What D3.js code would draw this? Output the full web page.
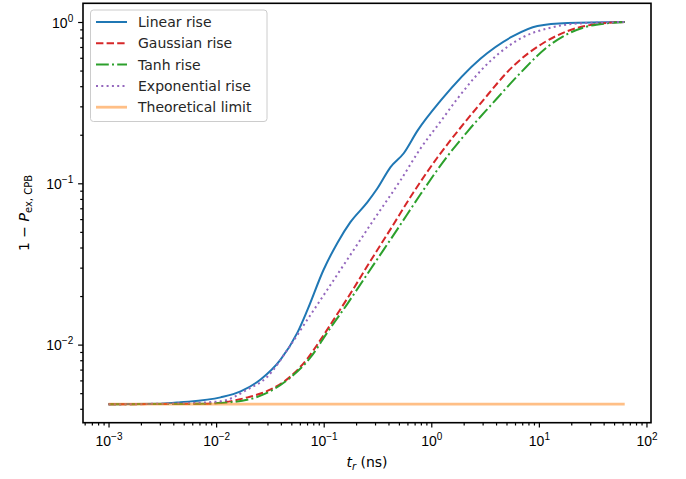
<!DOCTYPE html>
<html>
<head>
<meta charset="utf-8">
<title>CPB excitation vs rise time</title>
<script src="https://d3js.org/d3.v7.min.js"></script>
<style>
  body { margin: 0; background: #fff; }
  svg { font-family: "DejaVu Sans", sans-serif; }
  .axis text { font-size: 14px; fill: #000; }
  .axis line { stroke: #000; stroke-width: 1.2px; }
  .axis .domain { display: none; }
</style>
</head>
<body>
<svg id="chart" width="686" height="479"></svg>
<script>
// values: rise time t_r (ns) -> 1 - P_ex,CPB
const linearT = [0.001, 0.00304, 0.00467, 0.0110, 0.0169, 0.0259, 0.0397, 0.0571, 0.0706, 0.0995, 0.134, 0.177, 0.255, 0.316, 0.418, 0.552, 0.745, 1.22, 2.86, 5.81, 9.70, 18.5, 62.8];
const linearP = [0.00427, 0.00430, 0.00439, 0.00471, 0.00513, 0.00608, 0.00807, 0.0119, 0.0164, 0.0290, 0.0427, 0.0574, 0.0764, 0.0931, 0.126, 0.153, 0.212, 0.325, 0.592, 0.820, 0.944, 0.986, 1.0];

const gaussT = [0.001, 0.00716, 0.0117, 0.0196, 0.0321, 0.0491, 0.0706, 0.0933, 0.134, 0.189, 0.255, 0.418, 0.684, 1.14, 1.75, 2.86, 5.81, 11.0, 18.5, 37.4, 62.8];
const gaussP = [0.00427, 0.00430, 0.00439, 0.00471, 0.00527, 0.00634, 0.0082, 0.0107, 0.0155, 0.0222, 0.0308, 0.0520, 0.0880, 0.1445, 0.2094, 0.312, 0.535, 0.741, 0.879, 0.979, 1.0];

const tanhT = [0.001, 0.00716, 0.0136, 0.0276, 0.0491, 0.0753, 0.108, 0.166, 0.234, 0.290, 0.485, 0.794, 1.30, 2.17, 3.55, 6.75, 12.0, 18.5, 27.1, 41.6, 62.8];
const tanhP = [0.00427, 0.00430, 0.00439, 0.00491, 0.00625, 0.00832, 0.0119, 0.0179, 0.0252, 0.0312, 0.0520, 0.0855, 0.1368, 0.2094, 0.303, 0.484, 0.701, 0.843, 0.931, 0.979, 1.0];

const expT = [0.001, 0.00467, 0.0110, 0.0196, 0.0301, 0.0461, 0.0706, 0.108, 0.177, 0.303, 0.518, 0.794, 1.22, 1.75, 3.55, 7.19, 12.0, 18.5, 37.4, 62.8];
const expP = [0.00427, 0.00433, 0.00445, 0.00527, 0.00634, 0.00931, 0.0143, 0.0219, 0.0360, 0.0617, 0.1045, 0.1644, 0.2415, 0.335, 0.574, 0.808, 0.912, 0.965, 0.993, 1.0];

const limitT = [0.001, 62.8];
const limitP = [0.00427, 0.00427];

const legendLabels = ["Linear rise", "Gaussian rise", "Tanh rise", "Exponential rise", "Theoretical limit"];

const xTicks = [1e-3, 1e-2, 1e-1, 1, 10, 100];
const xTickExp = ["\u22123", "\u22122", "\u22121", "0", "1", "2"];
const yTicks = [1e-2, 1e-1, 1];
const yTickExp = ["\u22122", "\u22121", "0"];

// layout
const margin = {left: 83, top: 3.3, right: 35, bottom: 56.3};
const W = 686, H = 479;
const iw = W - margin.left - margin.right;
const ih = H - margin.top - margin.bottom;

const svg = d3.select("#chart");
svg.append("rect").attr("width", W).attr("height", H).attr("fill", "#fff");

const x = d3.scaleLog().domain([5.79e-4, 110.2]).range([0, iw]);
const y = d3.scaleLog().domain([0.00328, 1.306]).range([ih, 0]);

const g = svg.append("g").attr("transform", `translate(${margin.left},${margin.top})`);

// minor ticks: 2..9 in each decade
function minors(scale) {
  const [a, b] = scale.domain();
  const out = [];
  for (let e = Math.floor(Math.log10(a)); e <= Math.ceil(Math.log10(b)); e++) {
    for (let k = 2; k <= 9; k++) {
      const v = k * Math.pow(10, e);
      if (v >= a && v <= b) out.push(v);
    }
  }
  return out;
}

// x axis
g.append("g").attr("class", "axis").attr("transform", `translate(0,${ih})`)
  .call(d3.axisBottom(x).tickValues(minors(x)).tickSize(2.8).tickFormat(""));
const gx = g.append("g").attr("class", "axis").attr("transform", `translate(0,${ih})`)
  .call(d3.axisBottom(x).tickValues(xTicks).tickSize(4.9).tickFormat(""));
gx.selectAll(".tick text").each(function(d, i) {
  const t = d3.select(this).attr("y", 23.3).attr("dy", null).attr("text-anchor", "middle");
  t.text("10");
  t.append("tspan").attr("dy", -6).attr("font-size", "10px").text(xTickExp[i]);
});

// y axis
g.append("g").attr("class", "axis")
  .call(d3.axisLeft(y).tickValues(minors(y)).tickSize(2.8).tickFormat(""));
const gy = g.append("g").attr("class", "axis")
  .call(d3.axisLeft(y).tickValues(yTicks).tickSize(4.9).tickFormat(""));
gy.selectAll(".tick text").each(function(d, i) {
  const t = d3.select(this).attr("x", -9.8).attr("dy", null).attr("y", 5.2).attr("text-anchor", "end");
  t.text("10");
  t.append("tspan").attr("dy", -6).attr("font-size", "10px").text(yTickExp[i]);
});

// curves
const series = [
  {t: linearT, p: linearP, color: "#1f77b4", dash: null, w: 2},
  {t: gaussT, p: gaussP, color: "#d62728", dash: "7.4,3.2", w: 2},
  {t: tanhT, p: tanhP, color: "#2ca02c", dash: "12.8,3.2,2,3.2", w: 2},
  {t: expT, p: expP, color: "#9467bd", dash: "2,3.3", w: 2},
  {t: limitT, p: limitP, color: "#ff7f0e", dash: null, w: 2.8, op: 0.5}
];

const line = d3.line()
  .x(d => x(d[0]))
  .y(d => y(d[1]))
  .curve(d3.curveMonotoneX);

series.forEach(s => {
  g.append("path")
    .datum(s.t.map((t, i) => [t, s.p[i]]))
    .attr("d", line)
    .attr("fill", "none")
    .attr("stroke", s.color)
    .attr("stroke-width", s.w)
    .attr("stroke-dasharray", s.dash)
    .attr("stroke-opacity", s.op || 1);
});

// frame
g.append("rect").attr("width", iw).attr("height", ih)
  .attr("fill", "none").attr("stroke", "#000").attr("stroke-width", 1.6);

// legend
const lg = svg.append("g").attr("transform", "translate(90.5,10)");
lg.append("rect").attr("width", 176.5).attr("height", 111.5).attr("rx", 3)
  .attr("fill", "#fff").attr("fill-opacity", 0.8)
  .attr("stroke", "#ccc").attr("stroke-width", 1);
legendLabels.forEach((lab, i) => {
  const s = series[i];
  const yy = 12 + i * 21.3;
  lg.append("line").attr("x1", 5.5).attr("x2", 36.5).attr("y1", yy).attr("y2", yy)
    .attr("stroke", s.color).attr("stroke-width", s.w)
    .attr("stroke-dasharray", s.dash).attr("stroke-opacity", s.op || 1);
  lg.append("text").attr("x", 47.5).attr("y", yy).attr("dy", "0.36em")
    .attr("font-size", "14px").attr("fill", "#262626").text(lab);
});

// axis labels
const xl = svg.append("text")
  .attr("x", margin.left + iw / 2).attr("y", 467)
  .attr("text-anchor", "middle").attr("font-size", "14px");
xl.append("tspan").attr("font-style", "italic").text("t");
xl.append("tspan").attr("font-style", "italic").attr("font-size", "10px").attr("dy", 3).text("r");
xl.append("tspan").attr("dy", -3).text(" (ns)");

const yl = svg.append("text")
  .attr("transform", `translate(28.5,${margin.top + ih / 2}) rotate(-90)`)
  .attr("text-anchor", "middle").attr("font-size", "14px");
yl.append("tspan").text("1 \u2212 ");
yl.append("tspan").attr("font-style", "italic").text("P");
yl.append("tspan").attr("font-size", "10px").attr("dy", 3).text("ex, CPB");
</script>
</body>
</html>
